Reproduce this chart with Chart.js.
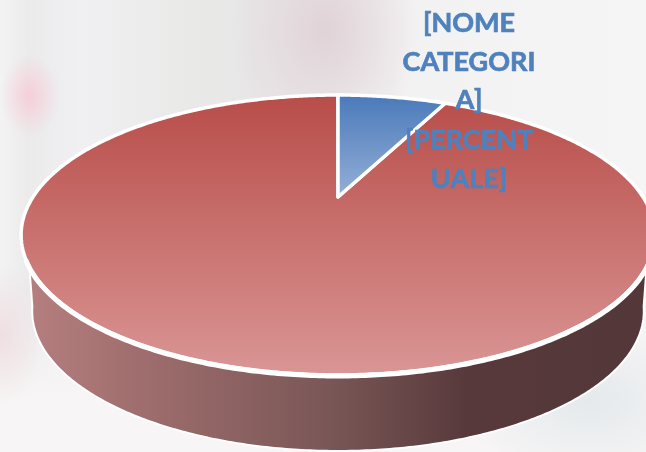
<!DOCTYPE html>
<html>
<head>
<meta charset="utf-8">
<script src="https://cdn.jsdelivr.net/npm/chart.js@4"></script>
<style>
html, body { margin: 0; padding: 0; width: 646px; height: 452px; overflow: hidden; background: #f1f1f1; }
#sfondo {
    position: absolute; left: 0; top: 0; width: 646px; height: 452px;
    background:
        radial-gradient(ellipse 30px 42px at 30px 96px, rgba(250,195,208,0.7), rgba(250,205,218,0) 100%),
        radial-gradient(ellipse 95px 130px at 325px 30px, rgba(222,206,212,0.85), rgba(222,206,212,0) 100%),
        radial-gradient(ellipse 45px 70px at 0px 335px, rgba(238,220,224,0.9), rgba(238,220,224,0) 100%),
        radial-gradient(ellipse 130px 80px at 590px 400px, rgba(228,233,236,1), rgba(228,233,236,0) 100%),
        linear-gradient(180deg, rgba(247,245,245,0) 290px, rgba(247,245,245,1) 400px),
        linear-gradient(90deg, #f3f3f4 0px, #ebebec 28px, #f0f0f2 85px, #e9e9e8 190px, #e8e7e7 255px, #f3f2f2 410px, #f6f5f5 646px);
}
#grafico { position: absolute; left: 0; top: 0; }
</style>
</head>
<body>
<div id="sfondo"></div>
<canvas id="grafico" width="646" height="452"></canvas>
<script>
const categorie = ['[NOME CATEGORIA]', '[NOME CATEGORIA]'];
const valori = [7.2, 92.8];
const righeEtichetta = ['[NOME', 'CATEGORI', 'A]', '[PERCENT', 'UALE]'];

// proiezione del cerchio sul piano inclinato (il centro non sta a meta' dell'ellisse)
// s restringe e dy abbassa il bordo inferiore del fianco
function proietta(angolo, s, dy) {
    let cx = 338, cy = 197, a = 76.2, k = 305;
    let u = Math.cos(angolo);
    let v = Math.sin(angolo);
    let d = 1 - 0.2714 * v;
    return [cx + s * k * u / d, (a * v + cy) / d + dy];
}

function tracciaArco(ctx, inizio, fine, s, dy, primo) {
    let passi = Math.max(2, Math.ceil(Math.abs(fine - inizio) / 0.01));
    for (let i = 0; i <= passi; i++) {
        let p = proietta(inizio + (fine - inizio) * i / passi, s, dy);
        if (i === 0 && primo) ctx.moveTo(p[0], p[1]);
        else ctx.lineTo(p[0], p[1]);
    }
}

const torta3d = {
    id: 'torta3d',
    beforeDatasetsDraw(chart) {
        let ctx = chart.ctx;
        let archi = chart.getDatasetMeta(0).data;
        let gr = Math.PI / 180;

        // fianco: dal bordo superiore a quello inferiore
        let fianco = ctx.createLinearGradient(25, 0, 640, 0);
        fianco.addColorStop(0, '#b67f80');
        fianco.addColorStop(0.18, '#a06e6e');
        fianco.addColorStop(0.5, '#795656');
        fianco.addColorStop(0.72, '#58393b');
        fianco.addColorStop(1, '#533739');
        ctx.save();
        ctx.lineJoin = 'round';
        ctx.beginPath();
        tracciaArco(ctx, 28 * gr, 152 * gr, 1, 0, true);
        tracciaArco(ctx, 166 * gr, 14 * gr, 0.965, 76, false);
        ctx.closePath();
        ctx.fillStyle = fianco;
        ctx.fill();
        ctx.strokeStyle = '#ffffff';
        ctx.lineWidth = 2;
        ctx.stroke();

        // facce superiori, prima il rosso poi il blu
        let colori = [['#4a7aba', '#95afd7', 95, 197], ['#b84d49', '#d99594', 95, 372]];
        [1, 0].forEach(function(i) {
            let arco = archi[i];
            let g = ctx.createLinearGradient(0, colori[i][2], 0, colori[i][3]);
            g.addColorStop(0, colori[i][0]);
            g.addColorStop(1, colori[i][1]);
            ctx.beginPath();
            let centro = proietta(0, 0, 0);
            ctx.moveTo(centro[0], 197);
            tracciaArco(ctx, arco.startAngle, arco.endAngle, 1, 0, false);
            ctx.closePath();
            ctx.fillStyle = g;
            ctx.fill();
            ctx.strokeStyle = '#ffffff';
            ctx.lineWidth = 3.5;
            ctx.stroke();
        });

        // il bordo davanti e' piu' spesso
        ctx.beginPath();
        tracciaArco(ctx, 25 * gr, 155 * gr, 1, 1, true);
        ctx.strokeStyle = '#ffffff';
        ctx.lineWidth = 5;
        ctx.stroke();
        ctx.restore();
        return false;
    },
    afterDraw(chart) {
        let ctx = chart.ctx;
        ctx.save();
        ctx.fillStyle = '#4f81bd';
        ctx.strokeStyle = '#4f81bd';
        ctx.lineWidth = 0.7;
        ctx.font = 'bold 27px Lato';
        ctx.textAlign = 'center';
        ctx.textBaseline = 'alphabetic';
        let base = [32, 71, 109, 149, 188];
        righeEtichetta.forEach(function(riga, i) {
            ctx.fillText(riga, 469, base[i]);
            ctx.strokeText(riga, 469, base[i]);
        });
        ctx.restore();
    }
};

new Chart(document.getElementById('grafico').getContext('2d'), {
    type: 'pie',
    data: {
        labels: categorie,
        datasets: [{ data: valori, backgroundColor: ['#4f81bd', '#c0504d'], borderColor: '#ffffff' }]
    },
    options: {
        responsive: false,
        animation: false,
        plugins: { legend: { display: false }, tooltip: { enabled: false }, title: { display: false } }
    },
    plugins: [torta3d]
});
</script>
</body>
</html>
